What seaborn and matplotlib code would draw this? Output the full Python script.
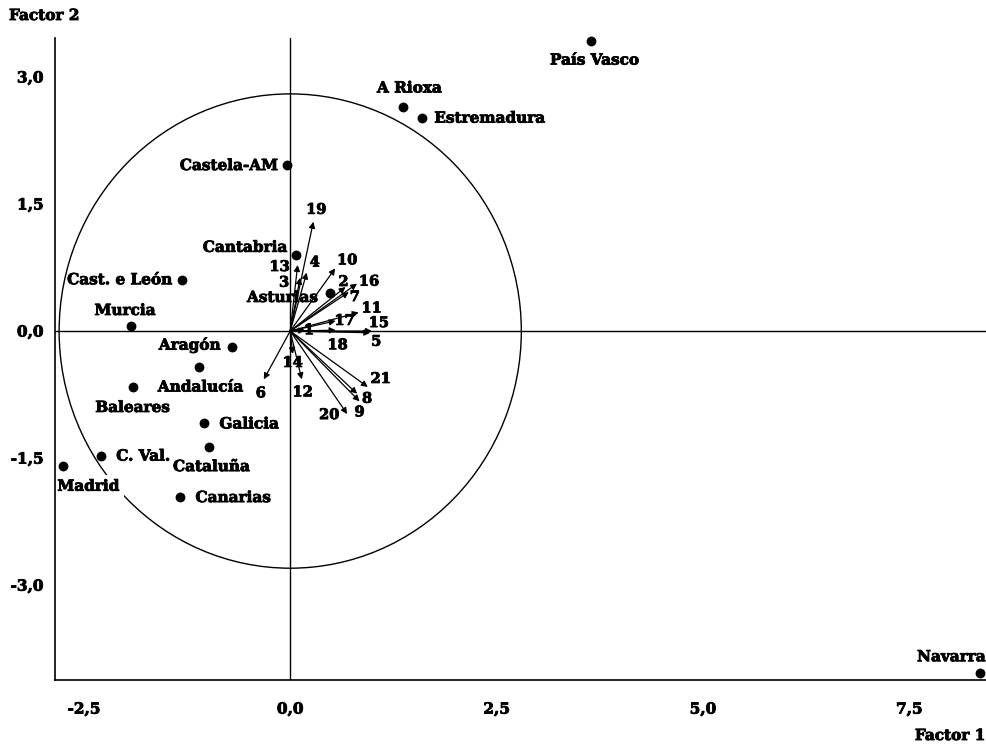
import numpy as np
import pandas as pd
import matplotlib
matplotlib.use("Agg")
import matplotlib.pyplot as plt
import matplotlib.patheffects as pe
from matplotlib.patches import Circle
import seaborn as sns

# Region scores on the first two factors
regions = ["País Vasco", "A Rioxa", "Estremadura", "Castela-AM", "Cantabria",
           "Asturias", "Cast. e León", "Murcia", "Aragón", "Andalucía",
           "Baleares", "Galicia", "Cataluña", "C. Val.", "Madrid", "Canarias",
           "Navarra"]
factor1 = [3.65, 1.37, 1.60, -0.04, 0.07, 0.48, -1.31, -1.93, -0.70, -1.10,
           -1.91, -1.04, -0.98, -2.29, -2.75, -1.33, 8.36]
factor2 = [3.43, 2.64, 2.52, 1.96, 0.90, 0.45, 0.60, 0.06, -0.19, -0.43,
           -0.66, -1.09, -1.37, -1.47, -1.59, -1.96, -4.04]

# Variable loadings (arrows)
variables = [str(i) for i in range(1, 22)]
load1 = [0.18, 0.67, 0.12, 0.20, 0.97, -0.32, 0.71, 0.81, 0.84, 0.545, 0.83,
         0.14, 0.09, 0.03, 0.99, 0.81, 0.55, 0.55, 0.28, 0.69, 0.94]
load2 = [0.01, 0.52, 0.63, 0.69, -0.02, -0.57, 0.46, -0.74, -0.83, 0.74, 0.22,
         -0.57, 0.78, -0.27, 0.0, 0.56, 0.12, 0.01, 1.29, -0.98, -0.66]

circle_radius = 2.8
x_ticks = [-2.5, 0.0, 2.5, 5.0, 7.5]
y_ticks = [-3.0, -1.5, 0.0, 1.5, 3.0]

# label placement: (dx, dy) in pixels and horizontal alignment
region_label_pos = {
    "País Vasco": (3, -20, "center"), "A Rioxa": (6, 19, "center"),
    "Estremadura": (12, -1, "left"), "Castela-AM": (-9, -1, "right"),
    "Cantabria": (-9, 7, "right"), "Asturias": (-12, -5, "right"),
    "Cast. e León": (-10, 0, "right"), "Murcia": (-6, 15, "center"),
    "Aragón": (-12, 2, "right"), "Andalucía": (1, -20, "center"),
    "Baleares": (0, -21, "center"), "Galicia": (15, -1, "left"),
    "Cataluña": (2, -20, "center"), "C. Val.": (15, -1, "left"),
    "Madrid": (25, -21, "center"), "Canarias": (15, -1, "left"),
    "Navarra": (-29, 16, "center"),
}
var_label_pos = {
    "1": (4, 0), "2": (-2, 5), "3": (-16, -5), "4": (8, 10), "5": (6, -9),
    "6": (-3, -14), "7": (6, -5), "8": (10, -5), "9": (0, -11), "10": (12, 8),
    "11": (13, 4), "12": (1, -13), "13": (-18, -2), "14": (0, -9),
    "15": (7, 8), "16": (12, 2), "17": (9, 0), "18": (2, -15), "19": (3, 12),
    "20": (-18, -1), "21": (13, 8),
}

df = pd.DataFrame({"region": regions, "f1": factor1, "f2": factor2})

sns.set_style("white")
plt.rcParams["font.family"] = ["DejaVu Serif"]
plt.rcParams["font.weight"] = "bold"
plt.rcParams["text.color"] = "black"
plt.rcParams["xtick.color"] = "black"
plt.rcParams["ytick.color"] = "black"

# slightly heavier lettering
heavy = [pe.withStroke(linewidth=0.6, foreground="black")]

fig = plt.figure(figsize=(9.87, 7.46), dpi=100)
ax = fig.add_axes([55 / 987, 1 - 680 / 746, (986 - 55) / 987, (680 - 38) / 746])

ax.set_xlim(-2.85, 8.43)
ax.set_ylim(-4.12, 3.46)

# reference axes through the origin
ax.axhline(0, color="black", lw=1.0, zorder=1)
ax.axvline(0, color="black", lw=1.0, zorder=1)

# correlation circle
ax.add_patch(Circle((0, 0), circle_radius, fill=False, ec="black", lw=1.0, zorder=1))

# variable arrows
for v, a, b in zip(variables, load1, load2):
    ax.annotate("", xy=(a, b), xytext=(0, 0),
                arrowprops=dict(arrowstyle="-|>", color="black", lw=0.9,
                                mutation_scale=9, shrinkA=0, shrinkB=0),
                zorder=3)
    dx, dy = var_label_pos[v]
    ax.annotate(v, xy=(a, b), xytext=(dx, dy), textcoords="offset pixels",
                ha="center", va="center", fontsize=10.5, fontweight="bold",
                zorder=4, path_effects=heavy)

# region points
sns.scatterplot(data=df, x="f1", y="f2", color="black", s=50, edgecolor="black",
                linewidth=0, ax=ax, zorder=5, clip_on=False, legend=False)

for r, a, b in zip(regions, factor1, factor2):
    dx, dy, ha = region_label_pos[r]
    kw = {"zorder": 4}
    if r == "Madrid":
        # white box breaks the circle behind the label, but stays under the frame
        kw["bbox"] = dict(boxstyle="square,pad=0.3", fc="white", ec="none")
        kw["zorder"] = 2
    ax.annotate(r, xy=(a, b), xytext=(dx, dy), textcoords="offset pixels",
                ha=ha, va="center", fontsize=11, fontweight="bold",
                path_effects=heavy, **kw)

# frame: only left and bottom
for side in ("top", "right"):
    ax.spines[side].set_visible(False)
for side in ("left", "bottom"):
    ax.spines[side].set_color("black")
    ax.spines[side].set_linewidth(1.2)
    ax.spines[side].set_zorder(3)

ax.set_xticks(x_ticks)
ax.set_yticks(y_ticks)
ax.set_xticklabels([f"{t:.1f}".replace(".", ",") for t in x_ticks])
ax.set_yticklabels([f"{t:.1f}".replace(".", ",") for t in y_ticks])
ax.tick_params(axis="both", direction="inout", length=6.5, width=1.0,
               color="black", labelsize=11)
ax.tick_params(axis="x", pad=13)
ax.tick_params(axis="y", pad=5)
for lbl in ax.get_xticklabels() + ax.get_yticklabels():
    lbl.set_fontweight("bold")
    lbl.set_path_effects(heavy)
ax.set_xlabel("")
ax.set_ylabel("")
ax.grid(False)

fig.text(985 / 987, 1 - 736 / 746, "Factor 1", ha="right", va="center",
         fontsize=11, fontweight="bold", path_effects=heavy)
fig.text(9 / 987, 1 - 16 / 746, "Factor 2", ha="left", va="center",
         fontsize=11, fontweight="bold", path_effects=heavy)

fig.savefig("out.png", dpi=100)
